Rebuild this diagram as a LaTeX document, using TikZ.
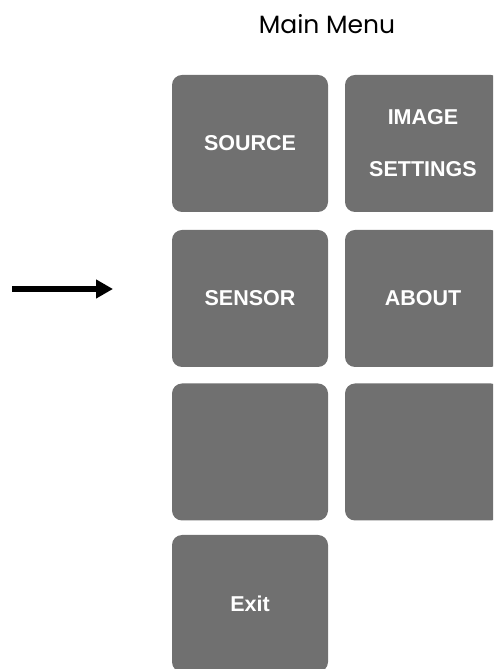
\documentclass[tikz,border=0pt]{standalone}
\usepackage{fontspec}
\setmainfont{Liberation Sans}
\newfontfamily\titlefont{Poppins}
\usetikzlibrary{arrows.meta}
\definecolor{tilegray}{RGB}{112,112,112}
\tikzset{
  tile/.style={rectangle, fill=tilegray, draw=none, rounded corners=10pt,
    minimum width=156pt, minimum height=137pt, inner sep=0pt,
    text=white, align=center, font=\bfseries\fontsize{21.5}{52}\selectfont},
  pointer/.style={line width=6pt, -{Triangle[length=17pt, width=18pt]}}
}
\begin{document}
\begin{tikzpicture}[x=1pt, y=1pt]
\useasboundingbox (0,0) rectangle (493,669);
\clip (0,0) rectangle (493,669);
\node[font=\titlefont\fontsize{25}{30}\selectfont] (title) at (327,645) {Main Menu};
\node[tile] (source) at (250,525.5) {SOURCE};
\node[tile] (image) at (423,525.5) {IMAGE\\SETTINGS};
\node[tile] (sensor) at (250,370.5) {SENSOR};
\node[tile] (about) at (423,370.5) {ABOUT};
\node[tile] (blankA) at (250,217) {};
\node[tile] (blankB) at (423,217) {};
\node[tile] (exit) at (250,65.5) {Exit};
\coordinate (arrowstart) at (12,380);
\coordinate (arrowend) at (113,380);
\draw[pointer] (arrowstart) -- (arrowend);
\end{tikzpicture}
\end{document}
